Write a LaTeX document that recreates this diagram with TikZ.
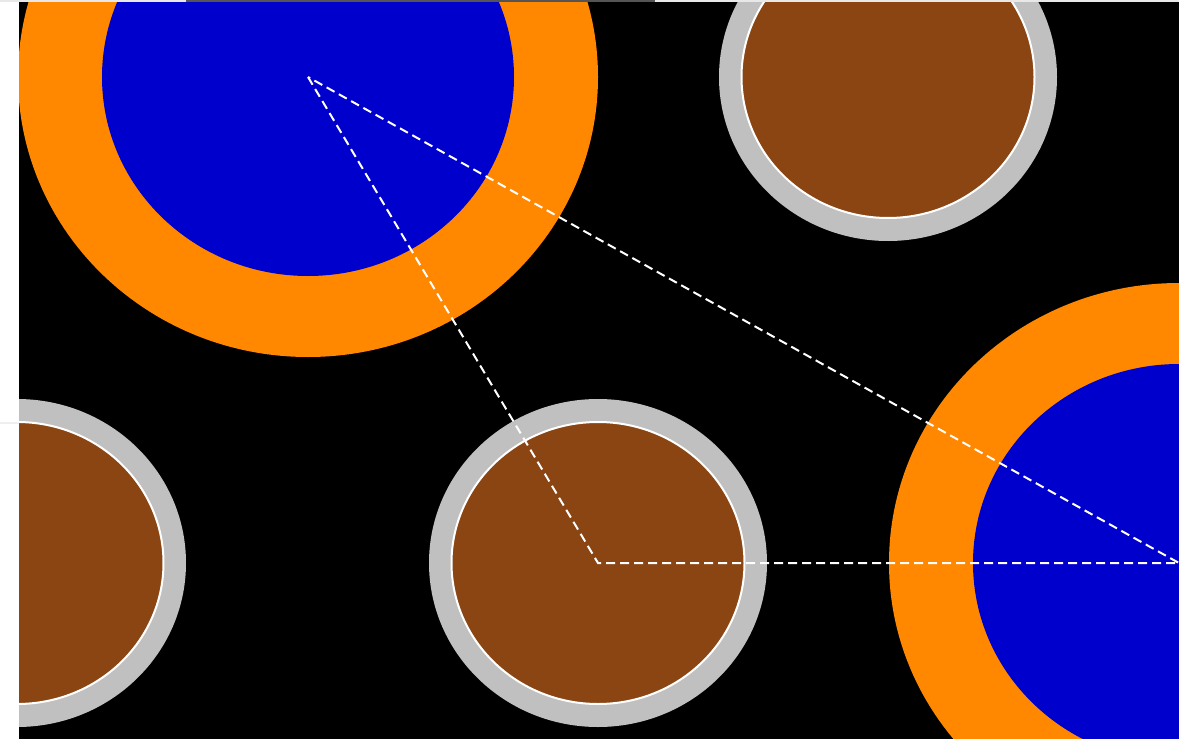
\documentclass[tikz,border=0pt]{standalone}
\definecolor{ringorange}{HTML}{FF8800}
\definecolor{coreblue}{HTML}{0000CC}
\definecolor{corebrown}{HTML}{8B4513}
\definecolor{ringgray}{HTML}{C0C0C0}
\definecolor{barlight}{HTML}{E8E8E8}
\definecolor{bardark}{HTML}{555555}
\begin{document}
\begin{tikzpicture}[x=1pt,y=-1pt,
  bigring/.style={fill=ringorange},
  bigcore/.style={fill=coreblue},
  smallring/.style={fill=ringgray},
  smallcore/.style={fill=corebrown,draw=white,line width=2pt},
  link/.style={draw=white,line width=2pt,dash pattern=on 9pt off 5pt}]
\useasboundingbox (0,0) rectangle (1179,739);
\fill[white] (0,0) rectangle (1179,739);
\fill[barlight] (0,0) rectangle (1179,2);
\fill[bardark] (186,0) rectangle (655,2);
\fill[barlight!70!white] (0,422) rectangle (19,424);
\fill[black] (19,2) rectangle (1179,739);
\coordinate (A) at (308,77);
\coordinate (B) at (1179,563);
\coordinate (C) at (598,563);
\coordinate (D) at (888,77);
\coordinate (E) at (17,563);
\begin{scope}
\clip (19,2) rectangle (1179,739);
\foreach \c in {A,B}{
  \fill[bigring] (\c) ellipse [x radius=290, y radius=280];
  \fill[bigcore] (\c) ellipse [x radius=206, y radius=199];
}
\foreach \c in {C,D,E}{
  \fill[smallring] (\c) ellipse [x radius=169, y radius=164];
  \path[smallcore] (\c) ellipse [x radius=146.5, y radius=141];
}
\draw[link] (A) -- (C) -- (B) -- cycle;
\end{scope}
\end{tikzpicture}
\end{document}
